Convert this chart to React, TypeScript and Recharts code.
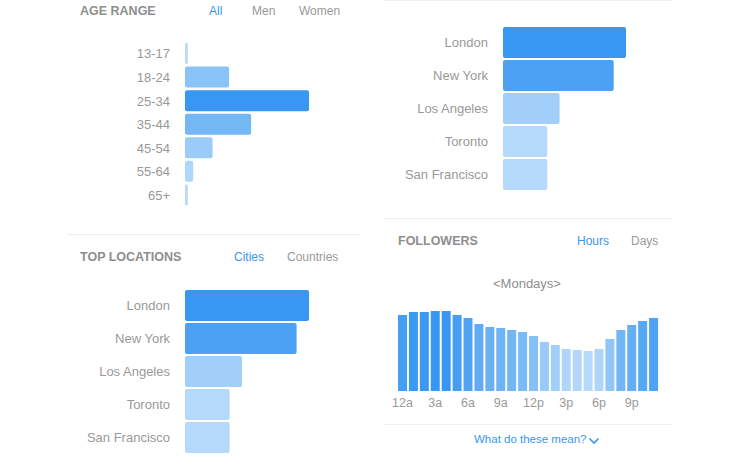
import { Bar, BarChart, Cell, XAxis, YAxis } from 'recharts'

// Instagram-style insights board: age range, two top-location lists and
// followers-by-hour. Bar colour is picked from the value, dark = biggest.

const ageRanges = ['13-17', '18-24', '25-34', '35-44', '45-54', '55-64', '65+']
const agePercents = [1, 16, 45, 24, 10, 3, 1]

const cities = ['London', 'New York', 'Los Angeles', 'Toronto', 'San Francisco']
const cityShares = [100, 90, 46, 36, 36]

const hourLabels = [
  '12a', '1a', '2a', '3a', '4a', '5a', '6a', '7a', '8a', '9a', '10a', '11a',
  '12p', '1p', '2p', '3p', '4p', '5p', '6p', '7p', '8p', '9p', '10p', '11p',
]
const followersByHour = [
  76, 79, 79, 80, 80, 76, 73, 67, 64, 63, 61, 59,
  55, 49, 46, 42, 41, 40, 42, 52, 61, 66, 70, 73,
]

const BLUE = '#3897f0'
const GREY = '#999999'
const RULE = '#efefef'
const FONT = '"Liberation Sans", Arial, Helvetica, sans-serif'

const LIGHT = [181, 217, 251]
const DARK = [56, 151, 240]

function shade(v: number, values: number[]) {
  const min = Math.min(...values)
  const max = Math.max(...values)
  const t = max === min ? 1 : (v - min) / (max - min)
  const c = LIGHT.map((l, i) => Math.round(l + (DARK[i] - l) * t))
  return `rgb(${c[0]}, ${c[1]}, ${c[2]})`
}

function Text({
  x,
  y,
  children,
  size = 12,
  color = GREY,
  bold = false,
}: {
  x: number
  y: number
  children: React.ReactNode
  size?: number
  color?: string
  bold?: boolean
}) {
  return (
    <div
      style={{
        position: 'absolute',
        left: x,
        top: y,
        transform: 'translateY(-50%)',
        fontSize: size,
        lineHeight: 1,
        color,
        fontWeight: bold ? 700 : 400,
        whiteSpace: 'nowrap',
      }}
    >
      {children}
    </div>
  )
}

function Rule({ x1, x2, y }: { x1: number; x2: number; y: number }) {
  return (
    <div
      style={{ position: 'absolute', left: x1, top: y, width: x2 - x1, height: 1, background: RULE }}
    />
  )
}

function RankBars({
  labels,
  values,
  left,
  top,
  labelWidth,
  plotWidth,
  height,
  barSize,
  fontSize = 13,
}: {
  labels: string[]
  values: number[]
  left: number
  top: number
  labelWidth: number
  plotWidth: number
  height: number
  barSize: number
  fontSize?: number
}) {
  const data = labels.map((label, i) => ({ label, value: values[i] }))
  return (
    <div style={{ position: 'absolute', left, top }}>
      <BarChart
        width={labelWidth + plotWidth}
        height={height}
        data={data}
        layout="vertical"
        margin={{ top: 0, right: 0, bottom: 0, left: 0 }}
      >
        <XAxis type="number" hide domain={[0, Math.max(...values)]} />
        <YAxis
          type="category"
          dataKey="label"
          width={labelWidth}
          tickLine={false}
          axisLine={false}
          tickSize={0}
          tickMargin={15}
          interval={0}
          tick={{ fill: GREY, fontSize }}
        />
        <Bar dataKey="value" barSize={barSize} radius={2} isAnimationActive={false}>
          {data.map((d) => (
            <Cell key={d.label} fill={shade(d.value, values)} />
          ))}
        </Bar>
      </BarChart>
    </div>
  )
}

function FollowersChart() {
  const data = hourLabels.map((hour, i) => ({ hour, value: followersByHour[i] }))
  return (
    <div style={{ position: 'absolute', left: 385, top: 311 }}>
      <BarChart
        width={286}
        height={100}
        data={data}
        margin={{ top: 0, right: 12, bottom: 0, left: 12 }}
        barCategoryGap={1}
      >
        <XAxis
          dataKey="hour"
          height={20}
          interval={2}
          tickLine={false}
          axisLine={false}
          tickSize={0}
          tickMargin={7}
          tick={{ fill: GREY, fontSize: 12.5 }}
        />
        <YAxis hide domain={[0, Math.max(...followersByHour)]} />
        <Bar dataKey="value" isAnimationActive={false}>
          {data.map((d) => (
            <Cell key={d.hour} fill={shade(d.value, followersByHour)} />
          ))}
        </Bar>
      </BarChart>
    </div>
  )
}

export default function App() {
  return (
    <div
      style={{
        position: 'absolute',
        left: 0,
        top: 0,
        width: 740,
        height: 470,
        background: '#ffffff',
        fontFamily: FONT,
        overflow: 'hidden',
      }}
    >
      {/* age range */}
      <Text x={80} y={11} size={12.5} bold color="#8e8e8e">AGE RANGE</Text>
      <Text x={209} y={11} color={BLUE}>All</Text>
      <Text x={252} y={11}>Men</Text>
      <Text x={299} y={11}>Women</Text>
      <RankBars
        labels={ageRanges}
        values={agePercents}
        left={60}
        top={42}
        labelWidth={125}
        plotWidth={124}
        height={165}
        barSize={21}
      />
      <Rule x1={67} x2={360} y={234} />

      {/* top locations, cities */}
      <Text x={80} y={257} size={12.5} bold color="#8e8e8e">TOP LOCATIONS</Text>
      <Text x={234} y={257} color={BLUE}>Cities</Text>
      <Text x={287} y={257}>Countries</Text>
      <RankBars
        labels={cities}
        values={cityShares}
        left={60}
        top={289}
        labelWidth={125}
        plotWidth={124}
        height={165}
        barSize={31}
      />

      {/* top-right cities list */}
      <Rule x1={383} x2={672} y={0} />
      <RankBars
        labels={cities}
        values={cityShares}
        left={378}
        top={26}
        labelWidth={125}
        plotWidth={123}
        height={165}
        barSize={31}
      />
      <Rule x1={383} x2={672} y={218} />

      {/* followers */}
      <Text x={398} y={241} size={12.5} bold color="#8e8e8e">FOLLOWERS</Text>
      <Text x={577} y={241} color={BLUE}>Hours</Text>
      <Text x={631} y={241}>Days</Text>
      <Text x={493} y={283} size={13} color="#8e8e8e">{'<Mondays>'}</Text>
      <FollowersChart />
      <Rule x1={384} x2={672} y={424} />
      <Text x={474} y={440} size={11.5} color={BLUE}>What do these mean?</Text>
      <svg
        width={12}
        height={8}
        style={{ position: 'absolute', left: 588, top: 437 }}
      >
        <polyline points="1.5,1.5 6,6 10.5,1.5" fill="none" stroke={BLUE} strokeWidth={1.6} />
      </svg>
    </div>
  )
}
